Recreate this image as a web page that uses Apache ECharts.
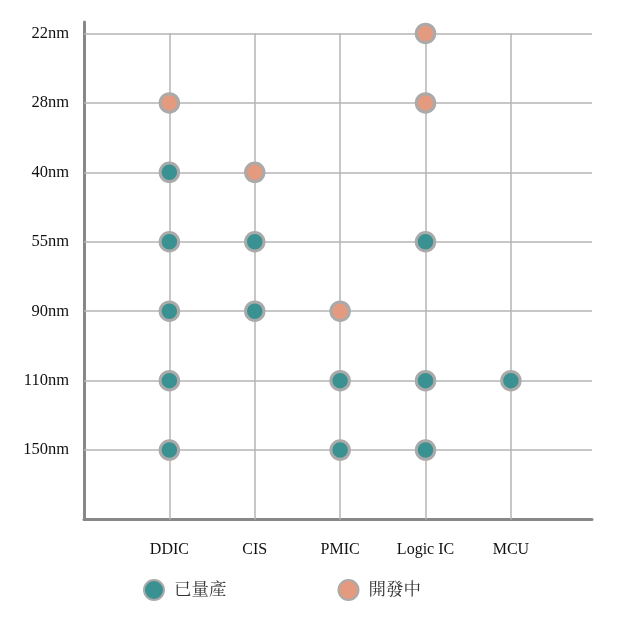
<!DOCTYPE html>
<html>
<head>
<meta charset="utf-8">
<script src="https://cdn.jsdelivr.net/npm/echarts@6/dist/echarts.min.js"></script>
<style>html,body{margin:0;padding:0;background:#fff}#c{width:626px;height:624px}</style>
</head>
<body>
<div id="c"></div>
<script>
// Categories
var products = ['DDIC', 'CIS', 'PMIC', 'Logic IC', 'MCU'];
// nodes from bottom (index 1) to top (index 7)
var nodes = ['150nm', '110nm', '90nm', '55nm', '40nm', '28nm', '22nm'];
var seriesNames = ['已量產', '開發中'];
// [product, node]
var massProduction = [
  ['DDIC', '40nm'], ['DDIC', '55nm'], ['DDIC', '90nm'], ['DDIC', '110nm'], ['DDIC', '150nm'],
  ['CIS', '55nm'], ['CIS', '90nm'],
  ['PMIC', '110nm'], ['PMIC', '150nm'],
  ['Logic IC', '55nm'], ['Logic IC', '110nm'], ['Logic IC', '150nm'],
  ['MCU', '110nm']
];
var inDevelopment = [
  ['DDIC', '28nm'], ['CIS', '40nm'], ['PMIC', '90nm'], ['Logic IC', '22nm'], ['Logic IC', '28nm']
];

function toPts(arr) {
  return arr.map(function (d) { return [products.indexOf(d[0]) + 1, nodes.indexOf(d[1]) + 1]; });
}

var X_MAX = 5.95;
var gridColor = '#b4b4b4';
var lines = [];
products.forEach(function (p, i) {
  lines.push([{ coord: [i + 1, 0] }, { coord: [i + 1, nodes.length] }]);
});
nodes.forEach(function (n, i) {
  lines.push([{ coord: [0, i + 1] }, { coord: [X_MAX, i + 1] }]);
});

var font = '"Liberation Serif", "Noto Serif CJK TC", "Noto Sans CJK TC", serif';
var chart = echarts.init(document.getElementById('c'));
chart.setOption({
  animation: false,
  backgroundColor: '#fff',
  textStyle: { fontFamily: font },
  grid: { left: 84, right: 34, top: 22, bottom: 104.5 },
  xAxis: {
    type: 'value', min: 0, max: X_MAX, interval: 1,
    axisLine: { show: true, lineStyle: { color: '#888', width: 3 } },
    axisTick: { show: false },
    splitLine: { show: false },
    axisLabel: {
      margin: 22, color: '#111', fontSize: 16, fontFamily: font,
      formatter: function (v) { var i = Math.round(v); return (Math.abs(v - i) < 1e-6 && i >= 1 && i <= products.length) ? products[i - 1] : ''; }
    }
  },
  yAxis: {
    type: 'value', min: 0, max: 7.165, interval: 1,
    axisLine: { show: true, lineStyle: { color: '#888', width: 3 } },
    axisTick: { show: false },
    splitLine: { show: false },
    axisLabel: {
      margin: 15, color: '#111', fontSize: 16.5, fontFamily: font,
      formatter: function (v) { var i = Math.round(v); return (Math.abs(v - i) < 1e-6 && i >= 1 && i <= nodes.length) ? nodes[i - 1] : ''; }
    }
  },
  legend: {
    bottom: 18, left: 138,
    itemGap: 111, itemWidth: 20, itemHeight: 20,
    textStyle: { fontSize: 17.5, color: '#333', fontFamily: font, padding: [0, 0, 0, 5] },
    data: seriesNames
  },
  series: [
    {
      name: 'grid', type: 'scatter', data: [], silent: true, z: 1,
      markLine: {
        silent: true, symbol: 'none', animation: false, z: 1,
        label: { show: false },
        lineStyle: { color: gridColor, width: 1.5, type: 'solid' },
        data: lines
      }
    },
    {
      name: seriesNames[0], type: 'scatter', symbol: 'circle', symbolSize: 18.5, z: 3,
      itemStyle: { color: '#3a9191', borderColor: '#aaaaaa', borderWidth: 3, opacity: 1 },
      data: toPts(massProduction)
    },
    {
      name: seriesNames[1], type: 'scatter', symbol: 'circle', symbolSize: 18.5, z: 3,
      itemStyle: { color: '#e49a7e', borderColor: '#aaaaaa', borderWidth: 3, opacity: 1 },
      data: toPts(inDevelopment)
    }
  ]
});
</script>
</body>
</html>
